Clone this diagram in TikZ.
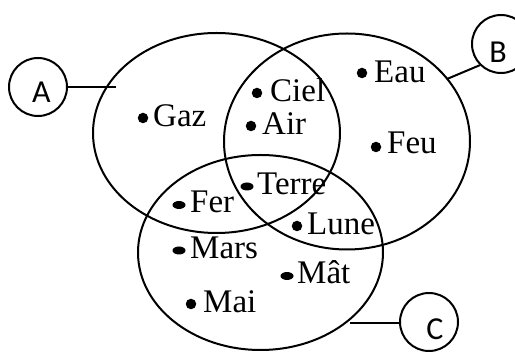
\documentclass[tikz,border=0pt]{standalone}
\usepackage{fontspec}
\setmainfont{Liberation Serif}
\newfontfamily\tagfont{Carlito}
\usetikzlibrary{shapes.geometric}
\tikzset{
  set/.style={draw, line width=2pt},
  item/.style={anchor=base west, inner sep=0pt, font=\fontsize{33}{40}\selectfont},
  rdot/.style={fill, circle, inner sep=0pt, minimum size=10.5pt},
  edot/.style={fill, ellipse, inner sep=0pt, minimum width=13pt, minimum height=8pt},
  tag/.style={draw, line width=2pt, circle, minimum size=58pt, inner sep=0pt},
  tagtext/.style={inner sep=0pt, font=\tagfont\fontsize{32}{38}\selectfont},
  link/.style={line width=2pt},
}
\begin{document}
\begin{tikzpicture}[x=1pt, y=-1pt]
\useasboundingbox (0,0) rectangle (515,352);
% sets
\draw[set] (216.5,133) ellipse [x radius=123.5, y radius=100];
\draw[set] (347,141.5) ellipse [x radius=123, y radius=108];
\draw[set] (260.5,252.5) ellipse [x radius=122.5, y radius=97.5];
% tags
\node[tag] (A) at (38,87) {};
\node[tagtext] (Atext) at (41.5,92) {A};
\node[tag] (B) at (501,44) {};
\node[tagtext] (Btext) at (498,52) {B};
\node[tag] (C) at (429,322) {};
\node[tagtext] (Ctext) at (435,329) {C};
\coordinate (Aend) at (116,87);
\coordinate (Bend) at (447,79);
\coordinate (Cend) at (350,323);
\draw[link] (A.east) -- (Aend);
\draw[link] (Bend) -- (B.225);
\draw[link] (Cend) -- (C.west |- Cend);
% items
\node[rdot] (gazdot) at (143,118) {};
\node[item] (gaz) at (153,127) {Gaz};
\node[rdot] (cieldot) at (257,93) {};
\node[item] (ciel) at (270,102) {Ciel};
\node[rdot] (airdot) at (251,126) {};
\node[item] (air) at (262,135) {Air};
\node[rdot] (eaudot) at (362,73) {};
\node[item] (eau) at (374,83) {Eau};
\node[rdot] (feudot) at (376,147) {};
\node[item] (feu) at (387,154) {Feu};
\node[edot] (terredot) at (247,186.5) {};
\node[item] (terre) at (257,195) {Terre};
\node[edot] (ferdot) at (179,205) {};
\node[item] (fer) at (190,213) {Fer};
\node[rdot] (lunedot) at (297,226) {};
\node[item] (lune) at (307,235) {Lune};
\node[edot] (marsdot) at (179,250.5) {};
\node[item] (mars) at (190,259) {Mars};
\node[edot] (matdot) at (287,276) {};
\node[item] (mat) at (297,284) {Mât};
\node[rdot] (maidot) at (191,304) {};
\node[item] (mai) at (203,313) {Mai};
\end{tikzpicture}
\end{document}
